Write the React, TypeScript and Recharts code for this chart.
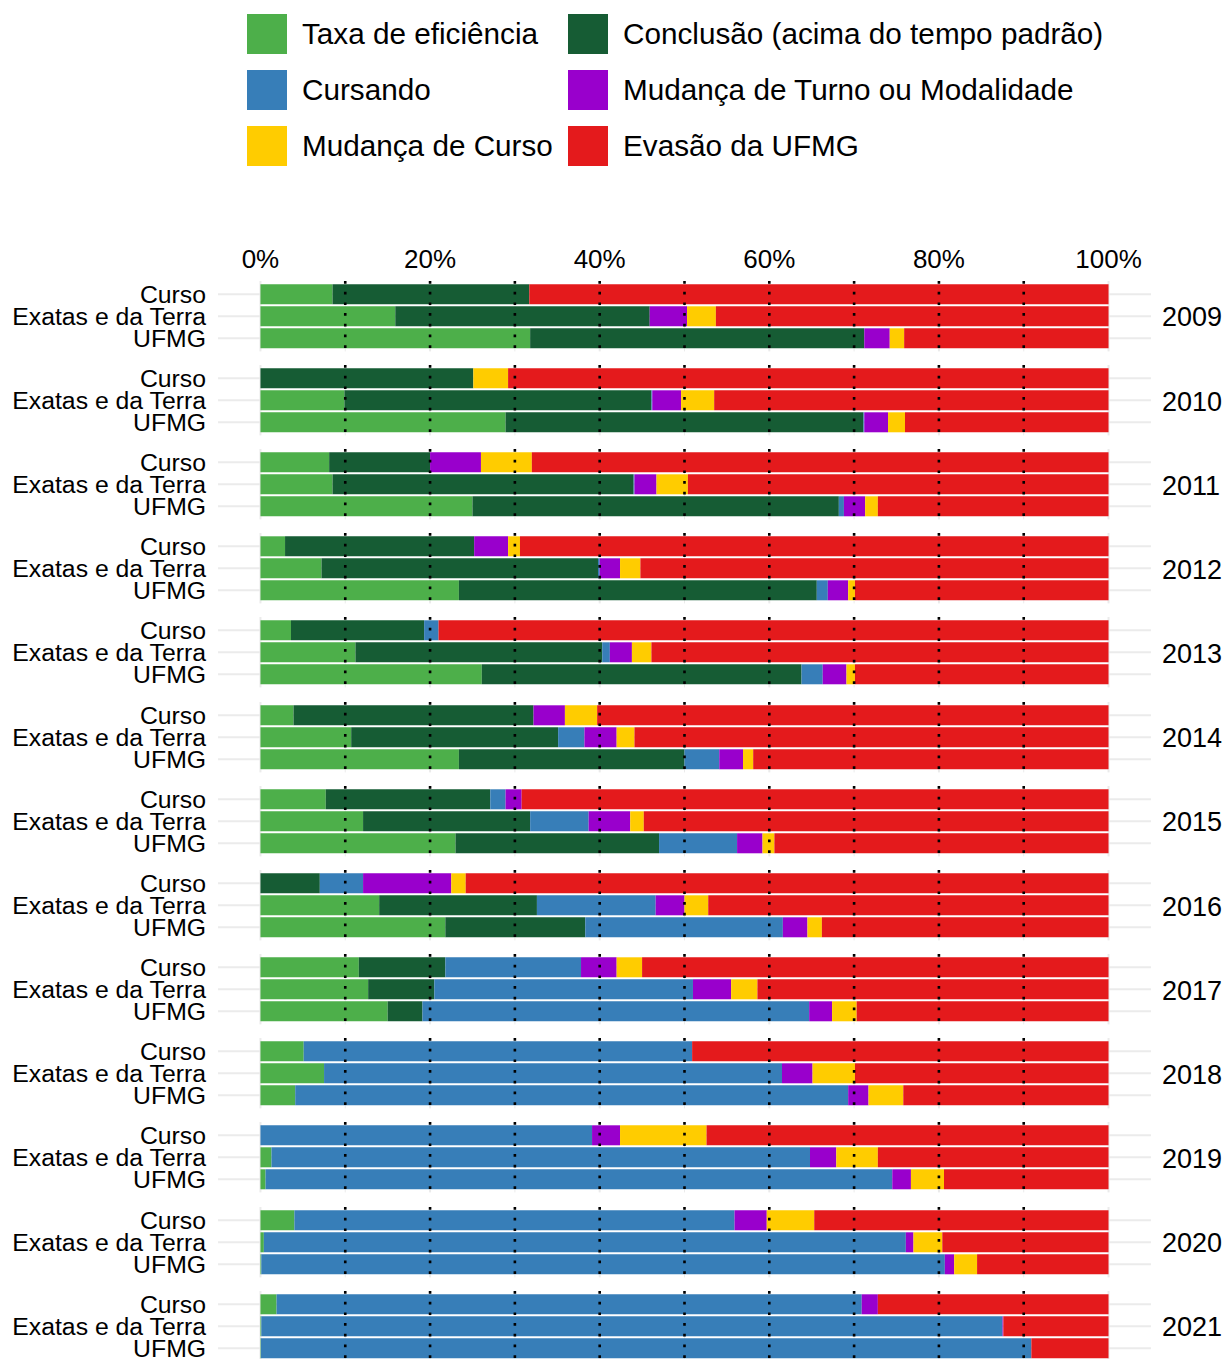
import { BarChart, Bar, XAxis, YAxis, CartesianGrid, ReferenceLine } from 'recharts';

const years = ['2009', '2010', '2011', '2012', '2013', '2014', '2015', '2016', '2017', '2018', '2019', '2020', '2021'];
const groups = ['Curso', 'Exatas e da Terra', 'UFMG'];
const xTicks = [0, 20, 40, 60, 80, 100];
const minorTicks = [10, 30, 50, 70, 90];
const guideLines = [10, 20, 30, 40, 50, 60, 70, 80, 90];

// values per year, in order: Curso, Exatas e da Terra, UFMG
const eficiencia = [
  8.5, 15.9, 31.8,
  0, 9.9, 28.9,
  8.1, 8.5, 25.0,
  2.9, 7.2, 23.4,
  3.6, 11.2, 26.1,
  3.9, 10.7, 23.4,
  7.7, 12.1, 23.0,
  0, 14.0, 21.8,
  11.6, 12.7, 15.0,
  5.1, 7.5, 4.1,
  0, 1.3, 0.6,
  4.0, 0.4, 0.1,
  1.9, 0.1, 0.05,
];
const conclusao = [
  23.2, 30.0, 39.4,
  25.1, 36.2, 42.2,
  11.9, 35.5, 43.2,
  22.3, 32.6, 42.2,
  15.7, 29.1, 37.7,
  28.3, 24.4, 26.6,
  19.4, 19.7, 24.0,
  7.0, 18.6, 16.5,
  10.2, 7.8, 4.1,
  0, 0, 0,
  0, 0, 0,
  0, 0, 0,
  0, 0, 0,
];
const cursando = [
  0, 0, 0,
  0, 0.1, 0.1,
  0, 0.1, 0.6,
  0, 0.2, 1.3,
  1.7, 0.9, 2.5,
  0, 3.1, 4.1,
  1.8, 6.9, 9.2,
  5.1, 14.0, 23.3,
  16.0, 30.5, 45.6,
  45.8, 54.0, 65.2,
  39.1, 63.5, 73.9,
  51.9, 75.7, 80.6,
  69.0, 87.4, 90.85,
];
const mudancaTurno = [
  0, 4.4, 3.0,
  0, 3.4, 2.8,
  6.0, 2.6, 2.5,
  4.0, 2.4, 2.4,
  0, 2.6, 2.8,
  3.7, 3.8, 2.8,
  1.9, 4.9, 3.0,
  10.4, 3.4, 2.9,
  4.2, 4.5, 2.7,
  0, 3.6, 2.4,
  3.3, 3.1, 2.2,
  3.8, 0.9, 1.1,
  1.9, 0.1, 0,
];
const mudancaCurso = [
  0, 3.4, 1.7,
  4.1, 3.9, 2.0,
  6.0, 3.7, 1.5,
  1.4, 2.4, 0.8,
  0, 2.3, 1.0,
  3.8, 2.1, 1.2,
  0, 1.6, 1.4,
  1.7, 2.8, 1.7,
  3.0, 3.1, 2.9,
  0, 5.0, 4.1,
  10.2, 4.9, 3.9,
  5.6, 3.4, 2.7,
  0, 0, 0,
];
const evasao = [
  68.3, 46.3, 24.1,
  70.8, 46.5, 24.0,
  68.0, 49.6, 27.2,
  69.4, 55.2, 29.9,
  79.0, 53.9, 29.9,
  60.3, 55.9, 41.9,
  69.2, 54.8, 39.4,
  75.8, 47.2, 33.8,
  55.0, 41.4, 29.7,
  49.1, 29.9, 24.2,
  47.4, 27.2, 19.4,
  34.7, 19.6, 15.5,
  27.2, 12.4, 9.1,
];

const SERIES = [
  { key: 'eficiencia', name: 'Taxa de eficiência', color: '#4DAF4A', values: eficiencia },
  { key: 'conclusao', name: 'Conclusão (acima do tempo padrão)', color: '#165C34', values: conclusao },
  { key: 'cursando', name: 'Cursando', color: '#377EB8', values: cursando },
  { key: 'turno', name: 'Mudança de Turno ou Modalidade', color: '#9900CC', values: mudancaTurno },
  { key: 'curso', name: 'Mudança de Curso', color: '#FFCC00', values: mudancaCurso },
  { key: 'evasao', name: 'Evasão da UFMG', color: '#E41A1C', values: evasao },
];

const PANEL_TOP = 280.7;
const PANEL_H = 70.4;
const FACET_STEP = 84.17;
const AXIS_H = 42;
const GRID = '#EBEBEB';

function Facet({ index }: { index: number }) {
  const rows = groups.map((g, j) => {
    const row: Record<string, any> = { grupo: g };
    SERIES.forEach(s => {
      row[s.key] = s.values[index * 3 + j];
    });
    return row;
  });
  const first = index === 0;
  const axisH = first ? AXIS_H : 0;
  const top = PANEL_TOP + index * FACET_STEP - 1 - axisH;

  return (
    <div style={{ position: 'absolute', left: 0, top }}>
      <BarChart
        layout="vertical"
        width={1226}
        height={PANEL_H + 2 + axisH}
        data={rows}
        margin={{ top: 1, bottom: 1, left: 0, right: 75 }}
        barCategoryGap="5%"
      >
        <CartesianGrid
          horizontal={false}
          verticalValues={minorTicks}
          syncWithTicks
          stroke={GRID}
          strokeWidth={1}
        />
        <CartesianGrid
          horizontalValues={groups}
          verticalValues={xTicks}
          syncWithTicks
          stroke={GRID}
          strokeWidth={2}
        />
        <XAxis
          type="number"
          domain={[-5, 105]}
          ticks={xTicks}
          orientation="top"
          hide={!first}
          height={axisH}
          axisLine={false}
          tickLine={false}
          tickSize={0}
          tickMargin={13}
          tickFormatter={(v: number) => `${v}%`}
          tick={{ fontSize: 26, fill: '#000' }}
        />
        <YAxis
          type="category"
          dataKey="grupo"
          width={218}
          axisLine={false}
          tickLine={false}
          tickSize={0}
          tickMargin={12}
          interval={0}
          padding={{ top: 2.2, bottom: 2.2 }}
          tick={{ fontSize: 24.8, fill: '#000' }}
        />
        {SERIES.map(s => (
          <Bar key={s.key} dataKey={s.key} name={s.name} stackId="a" fill={s.color} isAnimationActive={false} />
        ))}
        {guideLines.map(v => (
          <ReferenceLine key={`d${v}`} x={v} stroke="#000" strokeWidth={2.6} strokeDasharray="2.7 8" />
        ))}
      </BarChart>
      <div
        style={{
          position: 'absolute',
          left: 1162,
          top: 3 + axisH,
          height: PANEL_H,
          display: 'flex',
          alignItems: 'center',
          fontSize: 27,
          color: '#000',
        }}
      >
        {years[index]}
      </div>
    </div>
  );
}

function Legend() {
  return (
    <div
      style={{
        position: 'absolute',
        left: 247,
        top: 14,
        display: 'grid',
        gridTemplateColumns: '321px auto',
        rowGap: 16,
      }}
    >
      {SERIES.map(s => (
        <div key={s.key} style={{ display: 'flex', alignItems: 'center', height: 40 }}>
          <div style={{ width: 40, height: 40, background: s.color, flexShrink: 0 }} />
          <span style={{ marginLeft: 15, fontSize: 29.7, color: '#000', whiteSpace: 'nowrap' }}>{s.name}</span>
        </div>
      ))}
    </div>
  );
}

export default function App() {
  return (
    <div
      style={{
        position: 'absolute',
        left: 0,
        top: 0,
        width: 1226,
        height: 1359,
        background: '#fff',
        fontFamily: '"Liberation Sans", Arial, sans-serif',
        overflow: 'hidden',
      }}
    >
      <Legend />
      {years.map((y, i) => (
        <Facet key={y} index={i} />
      ))}
    </div>
  );
}
